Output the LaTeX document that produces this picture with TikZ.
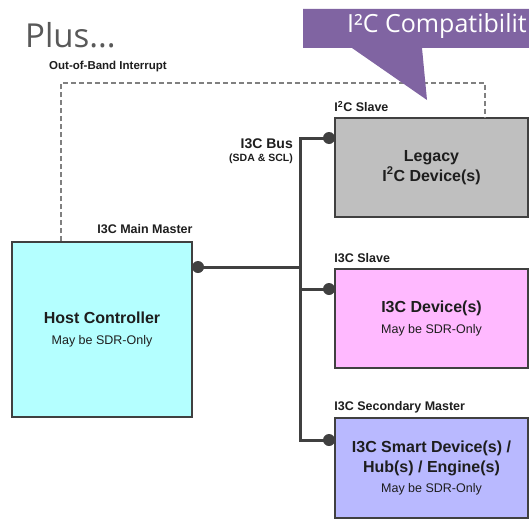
\documentclass[tikz,border=0pt]{standalone}
\usepackage{fontspec}
\setmainfont{Liberation Sans}
\newfontfamily\slidefont{Open Sans}
\usetikzlibrary{positioning, calc}

\definecolor{hostfill}{RGB}{180,255,255}
\definecolor{legacyfill}{RGB}{191,191,191}
\definecolor{devfill}{RGB}{255,185,255}
\definecolor{smartfill}{RGB}{185,185,255}
\definecolor{boxline}{RGB}{64,64,64}
\definecolor{busgray}{RGB}{64,64,64}
\definecolor{dashgray}{RGB}{128,128,128}
\definecolor{calloutpurple}{RGB}{128,100,162}
\definecolor{plusgray}{RGB}{89,89,89}
\definecolor{textdark}{RGB}{30,30,30}

\newcommand{\sdrnote}{{\mdseries\fontsize{12.5}{15}\selectfont May be SDR-Only}}

\tikzset{
    devbox/.style={draw=boxline, line width=1.5pt, minimum width=193pt,
        minimum height=99pt, align=center, text=textdark,
        font=\bfseries\fontsize{16}{19.5}\selectfont},
    tag/.style={inner sep=0pt, text=textdark,
        font=\bfseries\fontsize{12.5}{14}\selectfont},
    busline/.style={line width=3pt, draw=busgray},
    busdot/.style={circle, fill=busgray, minimum size=12pt, inner sep=0pt},
    oobline/.style={line width=1.5pt, draw=dashgray, dash pattern=on 5pt off 3pt},
}

\begin{document}
\begin{tikzpicture}[x=1pt, y=-1pt]
    \useasboundingbox (0,0) rectangle (529,519);
    \clip (0,0) rectangle (529,519);
    \fill[white] (0,0) rectangle (529,519);

    % boxes
    \node[devbox, fill=hostfill, minimum width=180pt, minimum height=175pt]
        (host) at (102,329.5) {Host Controller\\[2pt]\sdrnote};
    \node[devbox, fill=legacyfill] (legacy) at (431.5,167.5)
        {Legacy\\I\textsuperscript{2}C Device(s)};
    \node[devbox, fill=devfill] (dev) at (431.5,318.5)
        {I3C Device(s)\\[1pt]\sdrnote};
    \node[devbox, fill=smartfill, minimum height=100pt] (smart) at (431.5,468)
        {I3C Smart Device(s) /\\Hub(s) / Engine(s)\\[1pt]\sdrnote};

    % role labels
    \node[tag, anchor=south east] (hosttag) at ([yshift=7pt]host.north east) {I3C Main Master};
    \node[tag, anchor=south west] (legtag) at ([yshift=5pt]legacy.north west) {I\textsuperscript{2}C Slave};
    \node[tag, anchor=south west] (devtag) at ([yshift=5pt]dev.north west) {I3C Slave};
    \node[tag, anchor=south west] (smarttag) at ([yshift=4pt]smart.north west) {I3C Secondary Master};

    % bus
    \node[busdot] (hostdot) at (198,267) {};
    \node[busdot] (legdot) at (329,138) {};
    \node[busdot] (devdot) at (329,289) {};
    \node[busdot] (smartdot) at (329,440) {};
    \coordinate (bustop) at (300,138);
    \coordinate (busbot) at (300,440);

    \draw[busline] (legdot.center) -- (bustop) -- (busbot) -- (smartdot.center);
    \draw[busline] (hostdot.center) -- (hostdot.center -| bustop);
    \draw[busline] (devdot.center) -- (devdot.center -| bustop);

    \node[tag, anchor=east, font=\bfseries\fontsize{14}{16}\selectfont] (bustag) at (293,144) {I3C Bus};
    \node[tag, below left=5pt and 0pt of bustag.south east,
        font=\bfseries\fontsize{10.5}{12}\selectfont] (sdatag) {(SDA \& SCL)};

    % out-of-band interrupt
    \coordinate (oobleft) at (61,83);
    \coordinate (oobright) at (485,83);
    \draw[oobline] (host.north -| oobleft) -- (oobleft) -- (oobright) -- (legacy.north -| oobright);
    \node[tag, anchor=west, font=\bfseries\fontsize{11.5}{13}\selectfont] (oobtag) at (49,67) {Out-of-Band Interrupt};

    % slide title and callout
    \node[anchor=base west, inner sep=0pt, text=plusgray,
        font=\slidefont\fontsize{33}{36}\selectfont] (plus) at (25,48) {Plus...};
    \fill[calloutpurple] (303,9) -- (540,9) -- (540,48) -- (422,48)
        -- (427,100) -- (352,48) -- (303,48) -- cycle;
    \node[anchor=base west, inner sep=0pt, text=white,
        font=\slidefont\fontsize{25}{28}\selectfont] (callout) at (347,33) {I²C Compatibilit};
\end{tikzpicture}
\end{document}
